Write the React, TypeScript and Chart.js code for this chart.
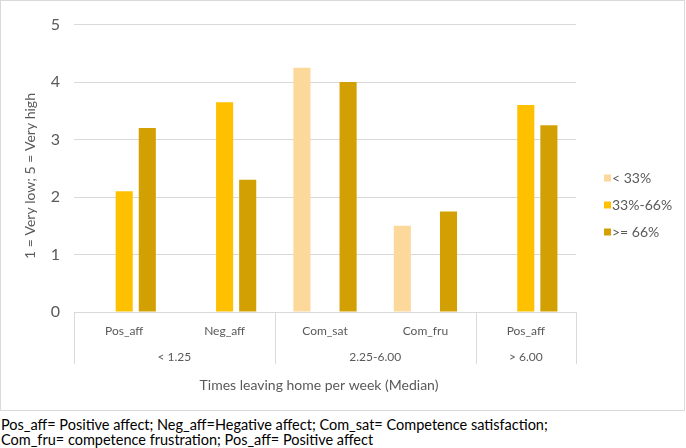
import React, { useEffect, useRef } from "react";
import { Chart, registerables } from "chart.js";

Chart.register(...registerables);

const categories = ["Pos_aff", "Neg_aff", "Com_sat", "Com_fru", "Pos_aff"];
const groupLabels = ["< 1.25", "2.25-6.00", "> 6.00"];
const groupStarts = [0, 2, 4];
const groupEnds = [1, 3, 4];
const seriesNames = ["< 33%", "33%-66%", ">= 66%"];
const lowValues = [null, null, 4.25, 1.5, null];
const midValues = [2.1, 3.65, null, null, 3.6];
const highValues = [3.2, 2.3, 4.0, 1.75, 3.25];
const yTicks = [0, 1, 2, 3, 4, 5];
const colors = ["#FDD89B", "#FFC000", "#D3A003"];
const yTitle = "1 = Very low; 5 = Very high";
const xTitle = "Times leaving home per week (Median)";
const captionLine1 = "Pos_aff= Positive affect; Neg_aff=Hegative affect; Com_sat= Competence satisfaction;";
const captionLine2 = "Com_fru= competence frustration; Pos_aff= Positive affect";

const FONT = "Lato, 'Open Sans', sans-serif";
const TEXT = "#595959";
const GRID = "#d9d9d9";

const decorPlugin = {
  id: "decor",
  afterDraw(chart: any) {
    const ctx = chart.ctx;
    const area = chart.chartArea;
    const xs = chart.scales.x;
    const n = categories.length;
    const cw = (area.right - area.left) / n;
    ctx.save();
    // category labels
    ctx.fillStyle = TEXT;
    ctx.font = `12px ${FONT}`;
    ctx.textAlign = "center";
    ctx.textBaseline = "middle";
    categories.forEach((c, i) => {
      ctx.fillText(c, xs.getPixelForValue(i), area.bottom + 19);
    });
    // group labels and separators
    ctx.strokeStyle = GRID;
    ctx.lineWidth = 1;
    groupLabels.forEach((g, k) => {
      const x0 = xs.getPixelForValue(groupStarts[k]) - cw / 2;
      const x1 = xs.getPixelForValue(groupEnds[k]) + cw / 2;
      ctx.fillText(g, (x0 + x1) / 2, area.bottom + 45);
      [x0, x1].forEach((xx) => {
        ctx.beginPath();
        ctx.moveTo(Math.round(xx) + 0.5, area.bottom);
        ctx.lineTo(Math.round(xx) + 0.5, area.bottom + 52);
        ctx.stroke();
      });
    });
    // x title
    ctx.font = `14px ${FONT}`;
    ctx.fillText(xTitle, (area.left + area.right) / 2 - 6, area.bottom + 73);
    // y title
    ctx.save();
    ctx.translate(29, 175);
    ctx.rotate(-Math.PI / 2);
    ctx.font = `14px ${FONT}`;
    ctx.fillText(yTitle, 0, 0);
    ctx.restore();
    // legend
    ctx.font = `14px ${FONT}`;
    ctx.textAlign = "left";
    seriesNames.forEach((s, i) => {
      const cy = 177 + i * 27;
      ctx.fillStyle = colors[i];
      ctx.fillRect(603, cy - 3.5, 7, 7);
      ctx.fillStyle = TEXT;
      ctx.fillText(s, 611, cy);
    });
    ctx.restore();
  },
};

export default function App() {
  const ref = useRef<HTMLCanvasElement>(null);
  useEffect(() => {
    if (!ref.current) return;
    const chart = new Chart(ref.current, {
      type: "bar",
      data: {
        labels: categories,
        datasets: [
          { label: seriesNames[0], data: lowValues as any, backgroundColor: colors[0] },
          { label: seriesNames[1], data: midValues as any, backgroundColor: colors[1] },
          { label: seriesNames[2], data: highValues as any, backgroundColor: colors[2] },
        ],
      },
      options: {
        responsive: false,
        animation: false,
        devicePixelRatio: 1,
        layout: { padding: { left: 0, right: 108, top: 21, bottom: 0 } },
        datasets: { bar: { categoryPercentage: 0.69, barPercentage: 0.74 } },
        plugins: { legend: { display: false }, tooltip: { enabled: false } },
        scales: {
          x: {
            ticks: { display: false },
            grid: { display: false },
            border: { display: false },
            afterFit: (s: any) => {
              s.height = 98;
            },
          },
          y: {
            min: 0,
            max: 5,
            afterBuildTicks: (s: any) => {
              s.ticks = yTicks.map((v) => ({ value: v }));
            },
            ticks: { color: TEXT, font: { size: 16, family: FONT }, padding: 14 },
            grid: { color: GRID, drawTicks: false, lineWidth: 1 },
            border: { display: false },
            afterFit: (s: any) => {
              s.width = 73;
            },
          },
        },
      },
      plugins: [decorPlugin],
    });
    return () => chart.destroy();
  }, []);
  return (
    <div style={{ position: "absolute", left: 0, top: 0, width: 686, height: 448, background: "#fff" }}>
      <div
        style={{
          position: "absolute",
          left: 0,
          top: 0,
          width: 685,
          height: 411,
          border: `1px solid ${GRID}`,
          boxSizing: "border-box",
        }}
      >
        <canvas ref={ref} width={683} height={409} style={{ display: "block" }} />
      </div>
      <div
        style={{
          position: "absolute",
          left: 1,
          top: 417,
          fontFamily: FONT,
          fontSize: 14.5,
          lineHeight: "15px",
          color: "#000",
          whiteSpace: "nowrap",
        }}
      >
        {captionLine1}
        <br />
        {captionLine2}
      </div>
    </div>
  );
}
